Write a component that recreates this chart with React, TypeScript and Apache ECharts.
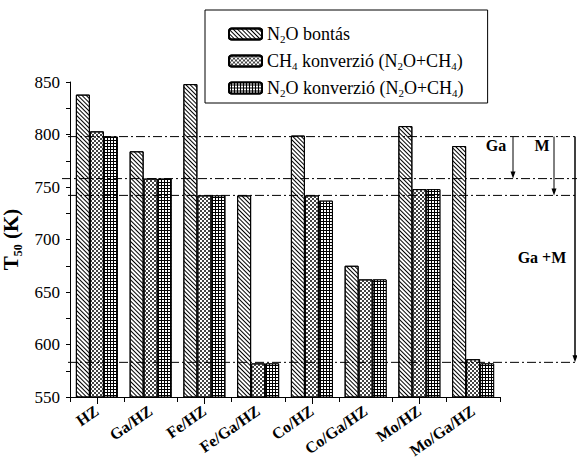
import React, { useEffect, useRef } from "react";
import * as echarts from "echarts";

const categories = ["HZ", "Ga/HZ", "Fe/HZ", "Fe/Ga/HZ", "Co/HZ", "Co/Ga/HZ", "Mo/HZ", "Mo/Ga/HZ"];
const seriesNames = ["N2O bontás", "CH4 konverzió (N2O+CH4)", "N2O konverzió (N2O+CH4)"];
const legendRich = [
  "N{sub|2}O bontás",
  "CH{sub|4} konverzió (N{sub|2}O+CH{sub|4})",
  "N{sub|2}O konverzió (N{sub|2}O+CH{sub|4})",
];
const n2oDecomp = [838, 784, 848, 742, 799, 675, 808, 789];
const ch4Conv = [803, 758, 742, 582, 742, 662, 748, 586];
const n2oConv = [798, 758, 742, 582, 737, 662, 748, 582];
const refLevels = [798, 758, 742, 583];
const yTicks = { min: 550, max: 850, interval: 50 };

const FONT = "Liberation Serif";

const decals: any[] = [
  {
    symbol: "rect",
    symbolSize: 1,
    color: "#000",
    dashArrayX: [1, 0],
    dashArrayY: [1, 2],
    rotation: Math.PI / 4,
  },
  {
    symbol: "rect",
    symbolSize: 1,
    color: "#444",
    dashArrayX: [[2, 2], [0, 2, 2, 0]],
    dashArrayY: [2, 0],
    rotation: 0,
  },
  {
    symbol: "rect",
    symbolSize: 1,
    color: "#fff",
    dashArrayX: [2, 1],
    dashArrayY: [2, 1],
    rotation: 0,
  },
];
const baseColors = ["#fff", "#fff", "#000"];
const seriesData = [n2oDecomp, ch4Conv, n2oConv];

export default function App() {
  const ref = useRef<HTMLDivElement>(null);
  useEffect(() => {
    document.body.style.margin = "0";
    const chart = echarts.init(ref.current!, null, { renderer: "svg" });
    const option: any = {
      animation: false,
      backgroundColor: "#fff",
      textStyle: { fontFamily: FONT },
      grid: { left: 70, right: 77, top: 82, bottom: 62, outerBoundsMode: "none", containLabel: false },
      legend: {
        orient: "vertical",
        left: 205,
        top: 10,
        itemWidth: 33,
        itemHeight: 11,
        itemGap: 7,
        padding: [14, 24, 5, 23],
        borderColor: "#000",
        borderWidth: 1,
        backgroundColor: "#fff",
        data: seriesNames,
        formatter: (name: string) => legendRich[seriesNames.indexOf(name)],
        textStyle: {
          fontFamily: FONT,
          fontSize: 18,
          lineHeight: 20,
          color: "#000",
          rich: {
            sub: { fontFamily: FONT, fontSize: 11, lineHeight: 20, verticalAlign: "bottom", color: "#000" },
          },
        },
      },
      xAxis: [
        {
          type: "category",
          data: categories,
          axisLine: { lineStyle: { color: "#000", width: 1 } },
          axisTick: { show: true, alignWithLabel: false, length: 5, lineStyle: { color: "#000" } },
          axisLabel: {
            rotate: 35,
            margin: 12,
            fontFamily: FONT,
            fontSize: 16,
            fontWeight: "bold",
            color: "#000",
            interval: 0,
          },
        },
        {
          type: "category",
          data: categories,
          position: "bottom",
          axisLine: { show: false },
          axisTick: { show: true, alignWithLabel: true, length: 7, lineStyle: { color: "#000" } },
          axisLabel: { show: false },
        },
      ],
      yAxis: {
        type: "value",
        min: yTicks.min,
        max: yTicks.max,
        interval: yTicks.interval,
        name: "T{sub|50} (K)",
        nameLocation: "middle",
        nameGap: 40,
        nameTextStyle: {
          fontFamily: FONT,
          fontSize: 21,
          fontWeight: "bold",
          lineHeight: 26,
          color: "#000",
          rich: {
            sub: { fontFamily: FONT, fontSize: 12, fontWeight: "bold", lineHeight: 26, verticalAlign: "bottom", color: "#000" },
          },
        },
        axisLine: { show: true, lineStyle: { color: "#000", width: 1 } },
        axisTick: { show: true, length: 4, lineStyle: { color: "#000" } },
        minorTick: { show: true, splitNumber: 2, length: 4, lineStyle: { color: "#000" } },
        splitLine: { show: false },
        axisLabel: { fontFamily: FONT, fontSize: 17, color: "#000", margin: 10 },
      },
      series: seriesData.map((d, i) => ({
        name: seriesNames[i],
        type: "bar",
        data: d,
        barWidth: 14,
        barGap: "0%",
        itemStyle: {
          color: baseColors[i],
          borderColor: "#000",
          borderWidth: 1,
          decal: decals[i],
        },
      })),
    };
    chart.setOption(option);

    const yPix = (v: number) => chart.convertToPixel({ yAxisIndex: 0 }, v) as number;
    const W = 577;
    const dash = [9, 3, 2, 3];
    const lineStarts = [68, 62, 68, 68];
    const graphics: any[] = refLevels.map((lv, i) => ({
      type: "line",
      shape: { x1: lineStarts[i], y1: yPix(lv), x2: W, y2: yPix(lv) },
      style: { stroke: "#000", lineWidth: 1, lineDash: dash },
      z: 50,
    }));
    const arrow = (x: number, from: number, to: number, w = 1) => {
      const y1 = yPix(from);
      const y2 = yPix(to);
      return [
        { type: "line", shape: { x1: x, y1, x2: x, y2: y2 - 3 }, style: { stroke: "#000", lineWidth: w }, z: 51 },
        {
          type: "polygon",
          shape: { points: [[x - 2.5, y2 - 7], [x + 2.5, y2 - 7], [x, y2]] },
          style: { fill: "#000" },
          z: 51,
        },
      ];
    };
    graphics.push(...arrow(513, refLevels[0], refLevels[1]));
    graphics.push(...arrow(554, refLevels[0], refLevels[2]));
    graphics.push(...arrow(575, refLevels[0], refLevels[3], 1.5));
    const txt = (text: string, x: number, y: number) => ({
      type: "text",
      x,
      y,
      style: {
        text,
        fontFamily: FONT,
        fontSize: 16,
        fontWeight: "bold",
        fill: "#000",
        align: "center",
        verticalAlign: "middle",
      },
      z: 52,
    });
    graphics.push(txt("Ga", 496, 145));
    graphics.push(txt("M", 542, 145));
    graphics.push(txt("Ga +M", 542, 257));
    chart.setOption({ graphic: graphics });

    return () => chart.dispose();
  }, []);
  return <div ref={ref} style={{ width: 577, height: 459 }} />;
}
